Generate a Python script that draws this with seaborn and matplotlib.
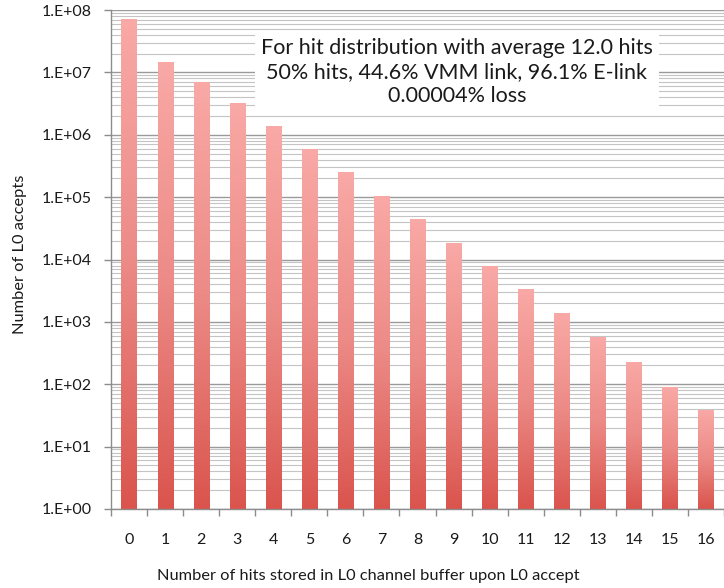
import numpy as np
import pandas as pd
import matplotlib
matplotlib.use("Agg")
import matplotlib.pyplot as plt
import seaborn as sns
from matplotlib.colors import LinearSegmentedColormap
from matplotlib.ticker import FixedLocator, FuncFormatter, LogLocator, NullFormatter

# Hits held in the L0 channel buffer and how many L0 accepts saw that count
hits = list(range(17))
accepts = [7.2e7, 1.45e7, 7.0e6, 3.2e6, 1.38e6, 5.9e5, 2.5e5, 1.05e5, 4.5e4,
           1.85e4, 7.9e3, 3.4e3, 1.39e3, 5.8e2, 2.3e2, 91, 39]

title_lines = ["For hit distribution with average 12.0 hits",
               "50% hits, 44.6% VMM link, 96.1% E-link",
               "0.00004% loss"]

sns.set_theme(style="white")
plt.rcParams["font.family"] = ["Lato", "DejaVu Sans"]

W, H = 724, 588
fig = plt.figure(figsize=(W / 100, H / 100), dpi=100)
ax = fig.add_axes([111 / W, 1 - 509 / H, (724 - 111) / W, (509 - 10) / H])

df = pd.DataFrame({"hits": [str(h) for h in hits], "accepts": accepts})
sns.barplot(data=df, x="hits", y="accepts", ax=ax, width=0.42,
            color="#E06060", edgecolor="none", errorbar=None, zorder=2)
ax.set_yscale("log")
ymin, ymax = 1, 1e8
ax.set_ylim(ymin, ymax)
ax.set_xlim(-0.5, len(hits) - 0.5)
ncat = len(hits)

# vertical gradient (light pink at top to red at bottom) on every bar,
# laid out in axes coordinates so it runs linearly down the drawn bar
grad = LinearSegmentedColormap.from_list("bar", ["#DA544D", "#EC8A86", "#F9A9A6"])
gimg = np.linspace(0, 1, 256).reshape(-1, 1)
lspan = np.log10(ymax) - np.log10(ymin)
for p in ax.patches:
    x0 = (p.get_x() + 0.5) / ncat
    x1 = (p.get_x() + p.get_width() + 0.5) / ncat
    top = (np.log10(p.get_y() + p.get_height()) - np.log10(ymin)) / lspan
    im = ax.imshow(gimg, cmap=grad, origin="lower", aspect="auto",
                   extent=(x0, x1, 0, top), transform=ax.transAxes,
                   zorder=2.5, interpolation="bilinear")
    im.set_clip_path(p)
    p.set_facecolor("none")
ax.set_xlim(-0.5, ncat - 0.5)
ax.set_ylim(ymin, ymax)
ax.set_aspect("auto")

# gridlines
ax.yaxis.set_major_locator(LogLocator(base=10, numticks=20))
ax.yaxis.set_minor_locator(LogLocator(base=10, subs=np.arange(2, 10), numticks=100))
ax.yaxis.set_minor_formatter(NullFormatter())
ax.yaxis.set_major_formatter(FuncFormatter(lambda v, _: f"1.E+{int(round(np.log10(v))):02d}"))
ax.grid(True, which="major", axis="y", color="#9A9A9A", lw=1.0, zorder=0)
ax.grid(True, which="minor", axis="y", color="#C4C4C4", lw=0.8, zorder=0)
ax.grid(False, axis="x")
ax.set_axisbelow(True)

for s in ["top", "right"]:
    ax.spines[s].set_visible(False)
for s in ["left", "bottom"]:
    ax.spines[s].set_color("#8C8C8C")
    ax.spines[s].set_linewidth(1.0)

# tick marks between categories on x, outward ticks on y
ax.xaxis.set_minor_locator(FixedLocator(np.arange(-0.5, ncat, 1.0)))
ax.tick_params(axis="x", which="major", length=0, pad=17, labelsize=11.5, labelcolor="#1A1A1A")
ax.tick_params(axis="x", which="minor", length=5, width=1, color="#8C8C8C", bottom=True)
ax.tick_params(axis="y", which="major", length=5, width=1, color="#8C8C8C", left=True,
               pad=9, labelsize=11.5, labelcolor="#1A1A1A")
ax.tick_params(axis="y", which="minor", length=0)

ax.set_xlabel("Number of hits stored in L0 channel buffer upon L0 accept",
              fontsize=11.8, color="#1A1A1A")
ax.xaxis.set_label_coords((368 - 111) / (724 - 111), -(576 - 509) / (509 - 10))
ax.xaxis.label.set_va("center")
ax.set_ylabel("Number of L0 accepts", fontsize=11.8, color="#1A1A1A")
ax.yaxis.set_label_coords(-(111 - 20) / (724 - 111), (509 - 254) / (509 - 10))
ax.yaxis.label.set_va("center")

fig.text(457 / W, 1 - 72 / H, "\n".join(title_lines), ha="center", va="center",
         fontsize=15.5, color="#1A1A1A", linespacing=1.26, zorder=10,
         bbox=dict(boxstyle="square,pad=0.3", fc="white", ec="none"))

fig.savefig("out.png", dpi=100)
